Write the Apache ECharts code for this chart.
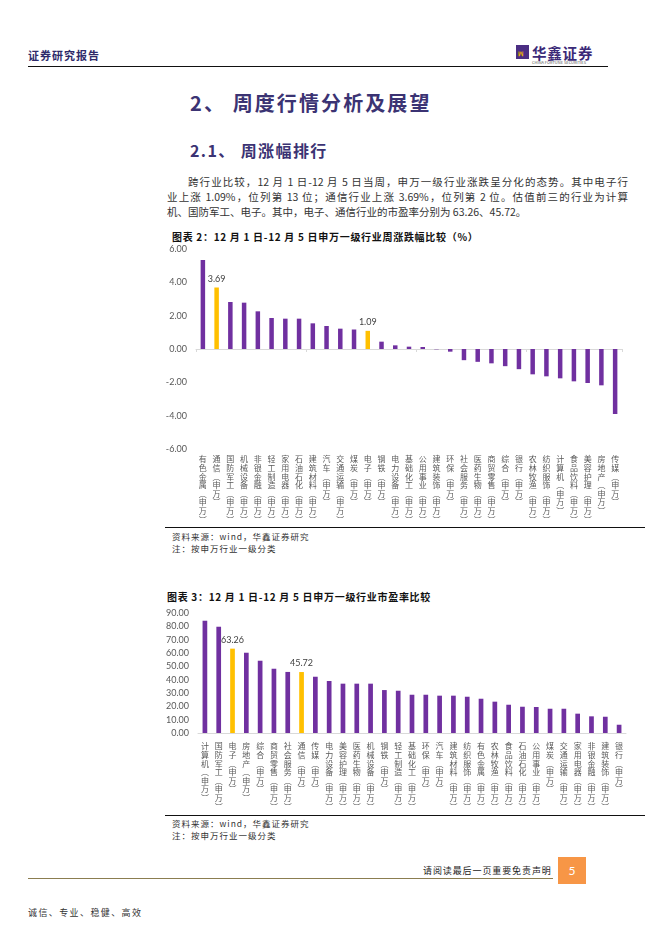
<!DOCTYPE html>
<html><head><meta charset="utf-8">
<script src="https://cdn.jsdelivr.net/npm/echarts@6/dist/echarts.min.js"></script>
<style>
body{margin:0;width:662px;height:936px;position:relative;background:#fff;font-family:"Noto Sans CJK SC",sans-serif;overflow:hidden;color:#222}
.abs{position:absolute;white-space:nowrap}
.hd{color:#2e2a6a;font-weight:bold}
.para div{text-align:justify;text-align-last:justify;height:15px;line-height:15px;font-size:10.5px;color:#333}
.ttl{font-weight:bold;font-size:10px;color:#111;letter-spacing:0.7px}
.src{font-size:8.5px;color:#333;letter-spacing:1px}
.rule{position:absolute;height:1px;background:#111}
</style></head><body>

<div class="abs hd" style="left:28px;top:47px;font-size:11px;letter-spacing:1px;">证券研究报告</div>
<div class="abs" style="left:516px;top:45px;width:13px;height:14px;background:#4b2e83;"></div>
<div class="abs" style="left:518px;top:49px;font-size:6px;color:#f0b400;font-weight:bold;">ꟽ</div>
<div class="abs" style="left:532px;top:42px;font-size:14.5px;color:#3b2a78;font-weight:bold;letter-spacing:0.8px;">华鑫证券</div>
<div class="abs" style="left:532px;top:59px;font-size:4px;color:#555;">CHINA FORTUNE SECURITIES</div>
<div class="rule" style="left:28px;top:66px;width:580px;"></div>

<div class="abs" style="left:190px;top:88px;font-size:20px;font-weight:bold;color:#3b3373;letter-spacing:2.1px;">2、 周度行情分析及展望</div>
<div class="abs" style="left:190px;top:138px;font-size:16px;font-weight:bold;color:#3b3373;letter-spacing:1.4px;">2.1、 周涨幅排行</div>

<div class="abs para" style="left:167px;top:174px;width:461px;white-space:normal;">
<div style="padding-left:21px;">跨行业比较，12 月 1 日-12 月 5 日当周，申万一级行业涨跌呈分化的态势。其中电子行</div>
<div>业上涨 1.09%，位列第 13 位；通信行业上涨 3.69%，位列第 2 位。估值前三的行业为计算</div>
<div style="text-align-last:left;">机、国防军工、电子。其中，电子、通信行业的市盈率分别为 63.26、45.72。</div>
</div>

<div class="abs ttl" style="left:172px;top:229px;">图表 2：12 月 1 日-12 月 5 日申万一级行业周涨跌幅比较（%）</div>
<div id="c1" class="abs" style="left:160px;top:240px;width:490px;height:286px;"></div>
<div class="rule" style="left:165px;top:527px;width:480px;"></div>
<div class="abs src" style="left:172px;top:530px;">资料来源：wind，华鑫证券研究</div>
<div class="abs src" style="left:172px;top:542px;">注：按申万行业一级分类</div>

<div class="abs ttl" style="left:167px;top:589px;">图表 3：12 月 1 日-12 月 5 日申万一级行业市盈率比较</div>
<div id="c2" class="abs" style="left:160px;top:600px;width:490px;height:214px;"></div>
<div class="rule" style="left:165px;top:815px;width:480px;"></div>
<div class="abs src" style="left:172px;top:817px;">资料来源：wind，华鑫证券研究</div>
<div class="abs src" style="left:172px;top:829px;">注：按申万行业一级分类</div>

<div class="abs" style="left:423px;top:864px;font-size:9px;letter-spacing:0.9px;color:#222;">请阅读最后一页重要免责声明</div>
<div class="abs" style="left:28px;top:878px;width:525px;height:1px;background:#8b7d50;"></div>
<div class="abs" style="left:558px;top:857px;width:28px;height:27px;background:#f79646;color:#fff;font-size:12px;line-height:27px;text-align:center;font-family:Lato,sans-serif;">5</div>
<div class="abs" style="left:28px;top:906px;font-size:9px;letter-spacing:1.4px;color:#333;">诚信、专业、稳健、高效</div>

<script>
// ---- Data: chart 1 (weekly change %) ----
const weekCategories = ['有色金属(申万)','通信(申万)','国防军工(申万)','机械设备(申万)','非银金融(申万)','轻工制造(申万)','家用电器(申万)','石油石化(申万)','建筑材料(申万)','汽车(申万)','交通运输(申万)','煤炭(申万)','电子(申万)','钢铁(申万)','电力设备(申万)','基础化工(申万)','公用事业(申万)','建筑装饰(申万)','环保(申万)','社会服务(申万)','医药生物(申万)','商贸零售(申万)','综合(申万)','银行(申万)','农林牧渔(申万)','纺织服饰(申万)','计算机(申万)','食品饮料(申万)','美容护理(申万)','房地产(申万)','传媒(申万)'];
const weekValues = [5.34,3.69,2.82,2.78,2.26,1.86,1.82,1.82,1.54,1.38,1.22,1.17,1.09,0.44,0.22,0.14,0.12,-0.02,-0.16,-0.67,-0.77,-0.86,-1.03,-1.21,-1.52,-1.64,-1.76,-1.94,-2.04,-2.18,-3.90];
const weekTicks = ['-6.00','-4.00','-2.00','0.00','2.00','4.00','6.00'];

// ---- Data: chart 2 (P/E) ----
const peCategories = ['计算机(申万)','国防军工(申万)','电子(申万)','房地产(申万)','综合(申万)','商贸零售(申万)','社会服务(申万)','通信(申万)','传媒(申万)','电力设备(申万)','美容护理(申万)','医药生物(申万)','机械设备(申万)','钢铁(申万)','轻工制造(申万)','基础化工(申万)','环保(申万)','汽车(申万)','建筑材料(申万)','纺织服饰(申万)','有色金属(申万)','农林牧渔(申万)','食品饮料(申万)','石油石化(申万)','公用事业(申万)','煤炭(申万)','交通运输(申万)','家用电器(申万)','非银金融(申万)','建筑装饰(申万)','银行(申万)'];
const peValues = [84.2,79.7,63.26,60.2,54.2,48.2,45.8,45.72,42.2,39.0,37.0,37.0,37.0,32.2,31.7,28.7,28.7,28.0,28.0,27.2,25.7,23.5,21.2,19.7,19.5,18.2,18.2,14.5,12.5,12.2,6.2];
const peTicks = ['0.00','10.00','20.00','30.00','40.00','50.00','60.00','70.00','80.00','90.00'];

const highlight = ['通信(申万)','电子(申万)'];
const PURPLE = '#7030a0', GOLD = '#ffc000';

function vert(name){
  return name.split('').map(c => c==='(' ? '︵' : c===')' ? '︶' : c).join('\n');
}
function barData(cats, vals){
  return vals.map((v,i) => {
    const hl = highlight.indexOf(cats[i]) >= 0;
    return {value:v, itemStyle:{color: hl?GOLD:PURPLE},
      label:{show: hl, position:'top', distance:4, color:'#404040', fontSize:9, fontFamily:'Lato, sans-serif',
             formatter: p => p.value.toFixed(2)}};
  });
}
const catLabel = {color:'#595959', fontSize:8, lineHeight:8.6, fontFamily:'"Noto Sans CJK SC"', formatter: vert, interval:0, verticalAlign:'top'};
const valLabel = {color:'#595959', fontSize:9, fontFamily:'Lato, sans-serif', margin:9};

const c1 = echarts.init(document.getElementById('c1'));
c1.setOption({
  animation:false,
  grid:{left:36, top:9, width:426, height:200},
  xAxis:[
    {type:'category', data:weekCategories, position:'bottom',
     axisLine:{onZero:true, lineStyle:{color:'#d9d9d9'}},
     axisTick:{show:true, length:3, lineStyle:{color:'#d9d9d9'}},
     axisLabel:{show:false}},
    {type:'category', data:weekCategories, position:'bottom', axisLine:{show:false, onZero:false},
     axisTick:{show:false}, axisLabel:Object.assign({}, catLabel, {margin:6})}
  ],
  yAxis:{type:'value', min:-6, max:6, interval:2, splitLine:{show:false},
    axisLine:{show:false}, axisTick:{show:false},
    axisLabel:Object.assign({}, valLabel, {formatter: v => weekTicks[(v+6)/2]})},
  series:[{type:'bar', data:barData(weekCategories, weekValues), barWidth:4.5, xAxisIndex:0}]
});

const c2 = echarts.init(document.getElementById('c2'));
c2.setOption({
  animation:false,
  grid:{left:38, top:13, width:428, height:120},
  xAxis:{type:'category', data:peCategories,
    axisLine:{lineStyle:{color:'#d9d9d9'}},
    axisTick:{show:false},
    axisLabel:Object.assign({}, catLabel, {margin:9})},
  yAxis:{type:'value', min:0, max:90, interval:10, splitLine:{show:false},
    axisLine:{show:false}, axisTick:{show:false},
    axisLabel:Object.assign({}, valLabel, {formatter: v => peTicks[v/10]})},
  series:[{type:'bar', data:barData(peCategories, peValues), barWidth:4.7}]
});
</script>
</body></html>
